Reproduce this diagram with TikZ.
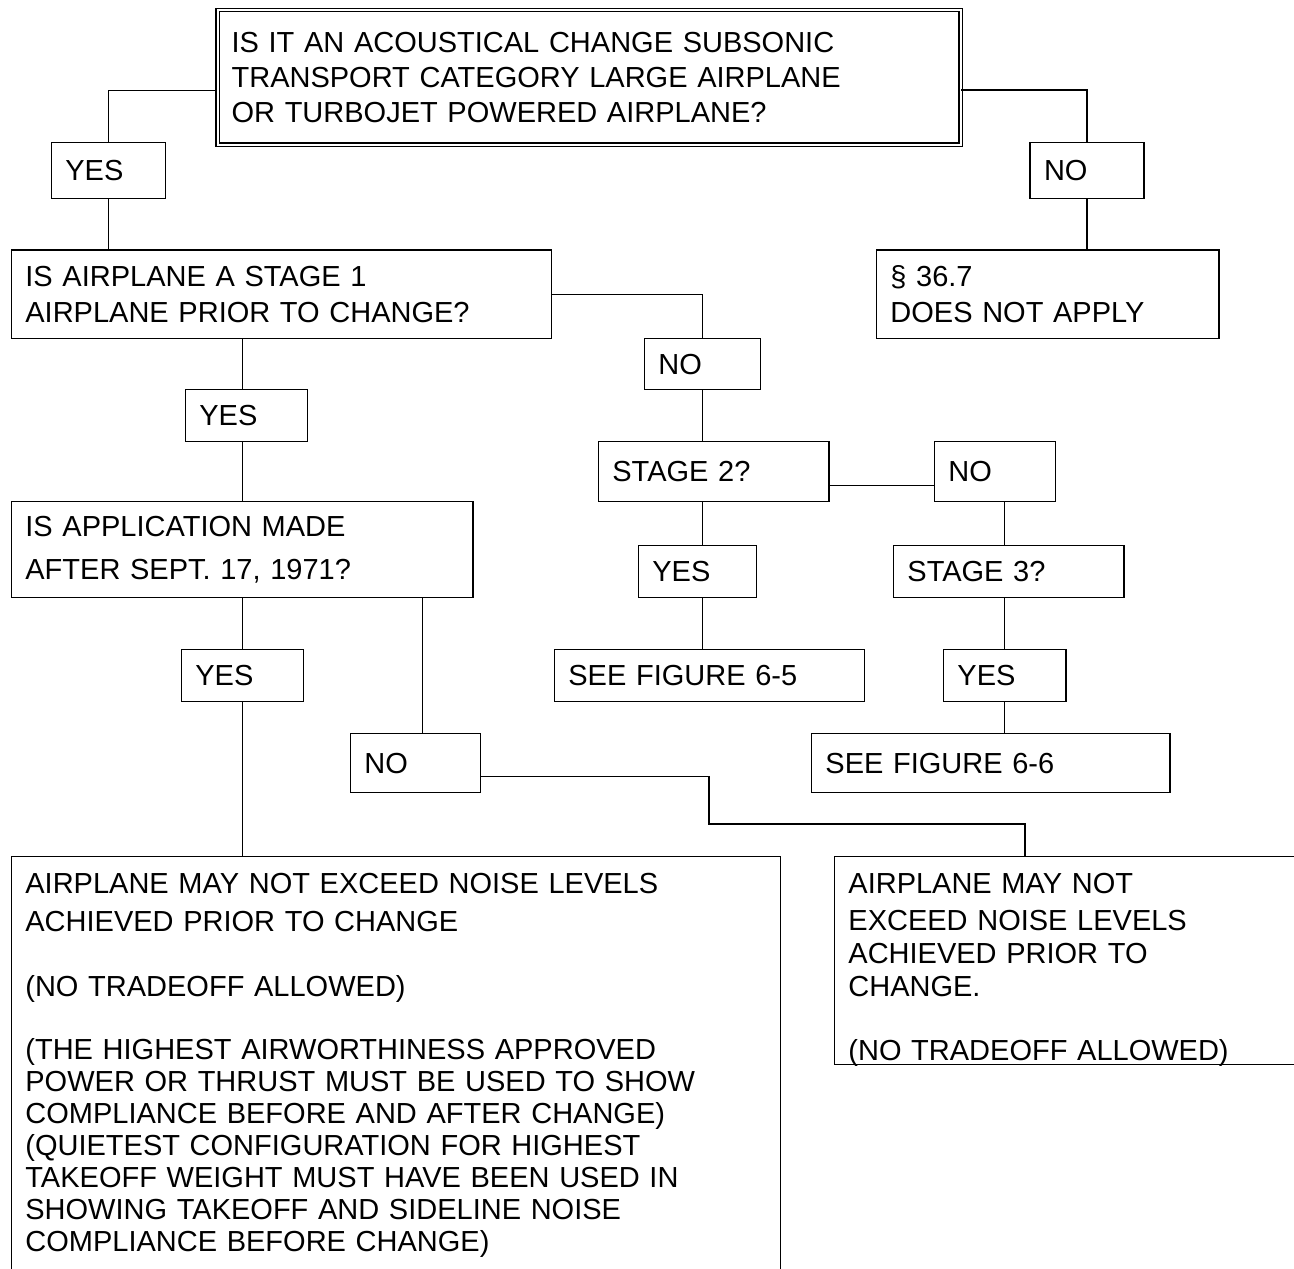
\documentclass[tikz,border=0pt]{standalone}
\usepackage{fontspec}
\setmainfont{Liberation Sans}
\begin{document}
\begin{tikzpicture}[x=1pt, y=-1pt, font=\fontsize{29}{35}\selectfont]
  \useasboundingbox (0,0) rectangle (1294,1269);
  \begin{scope}[every node/.style={draw=black, line width=1.4pt, anchor=north west, inner xsep=14pt, inner ysep=0pt, align=left}]
    \node[double, double distance=2.2pt, line width=1.2pt, text width=715pt, minimum height=134.5pt] (q0) at (217,9.5)
      {IS IT AN ACOUSTICAL CHANGE SUBSONIC\\TRANSPORT CATEGORY LARGE AIRPLANE\\OR TURBOJET POWERED AIRPLANE?};
    \node[text width=86.3pt, minimum height=56pt] (yes1) at (50.7,141.7) {YES};
    \node[text width=86pt, minimum height=56pt] (no1) at (1029.3,141.7) {NO};
    \node[text width=512.3pt, minimum height=88.4pt, font=\fontsize{29}{35.7}\selectfont] (stage1) at (10.7,249.3)
      {IS AIRPLANE A STAGE 1\\AIRPLANE PRIOR TO CHANGE?};
    \node[text width=314.6pt, minimum height=88.4pt, font=\fontsize{29}{35.7}\selectfont] (sec367) at (875.7,249.3)
      {§ 36.7\\DOES NOT APPLY};
    \node[text width=88.3pt, minimum height=51.3pt] (no2) at (643.7,337.7) {NO};
    \node[text width=94.3pt, minimum height=52pt] (yes2) at (184.7,389) {YES};
    \node[text width=202.6pt, minimum height=60.3pt] (stage2) at (597.7,440.7) {STAGE 2?};
    \node[text width=93.3pt, minimum height=60pt] (no3) at (933.7,440.7) {NO};
    \node[text width=433.6pt, minimum height=96.3pt, font=\fontsize{29}{43.3}\selectfont] (app) at (10.7,500.7)
      {IS APPLICATION MADE\\AFTER SEPT. 17, 1971?};
    \node[text width=90.3pt, minimum height=51.7pt] (yes4) at (637.7,545) {YES};
    \node[text width=202.6pt, minimum height=52pt] (stage3) at (892.7,545) {STAGE 3?};
    \node[text width=94.3pt, minimum height=52.3pt] (yes3) at (180.7,648.7) {YES};
    \node[text width=282.3pt, minimum height=52pt] (fig65) at (553.7,649) {SEE FIGURE 6-5};
    \node[text width=94.6pt, minimum height=52.3pt] (yes5) at (942.7,648.7) {YES};
    \node[text width=102.3pt, minimum height=59.3pt] (no4) at (349.7,732.7) {NO};
    \node[text width=330.6pt, minimum height=59.3pt] (fig66) at (810.7,732.7) {SEE FIGURE 6-6};
    \node[text width=741.3pt, inner ysep=17.3pt, text height=20pt, text depth=420pt, font=\fontsize{29}{32}\selectfont] (result1) at (10.7,855.7)
      {AIRPLANE MAY NOT EXCEED NOISE LEVELS\\[5.7pt]
       ACHIEVED PRIOR TO CHANGE\\[32.7pt]
       (NO TRADEOFF ALLOWED)\\[31.7pt]
       (THE HIGHEST AIRWORTHINESS APPROVED\\
       POWER OR THRUST MUST BE USED TO SHOW\\
       COMPLIANCE BEFORE AND AFTER CHANGE)\\
       (QUIETEST CONFIGURATION FOR HIGHEST\\
       TAKEOFF WEIGHT MUST HAVE BEEN USED IN\\
       SHOWING TAKEOFF AND SIDELINE NOISE\\
       COMPLIANCE BEFORE CHANGE)};
    \node[text width=452pt, inner ysep=17.3pt, text height=20pt, text depth=153.7pt, font=\fontsize{29}{33}\selectfont] (result2) at (833.7,855.7)
      {AIRPLANE MAY NOT\\[3.7pt]
       EXCEED NOISE LEVELS\\
       ACHIEVED PRIOR TO\\
       CHANGE.\\[31pt]
       (NO TRADEOFF ALLOWED)};
  \end{scope}
  \begin{scope}[line width=1.1pt]
    \draw ([yshift=-12.75pt]q0.west) -| (yes1.north);
    \draw ([yshift=-12.6pt]q0.east) -| (no1.north);
    \draw (yes1.south) -- (yes1.south |- stage1.north);
    \draw (no1.south) -- (no1.south |- sec367.north);
    \draw (stage1.south -| yes3.north) -- (yes2.north -| yes3.north);
    \draw (yes2.south -| yes3.north) -- (app.north -| yes3.north);
    \draw (app.south -| yes3.north) -- (yes3.north);
    \draw (yes3.south) -- (yes3.south |- result1.north);
    \draw (stage1.east) -| (no2.north);
    \draw (no2.south) -- (no2.south |- stage2.north);
    \draw (stage2.south -| no2.south) -- (yes4.north -| no2.south);
    \draw (yes4.south -| no2.south) -- (fig65.north -| no2.south);
    \draw ([yshift=-13.5pt]stage2.east) -- ([yshift=-13.5pt]stage2.east -| no3.west);
    \draw (no3.south -| yes5.north) -- (stage3.north -| yes5.north);
    \draw (stage3.south -| yes5.north) -- (yes5.north);
    \draw (yes5.south) -- (yes5.south |- fig66.north);
    \coordinate (noup) at ([xshift=7pt]no4.north);
    \draw (noup |- app.south) -- (noup);
    \coordinate (bend) at (709,824);
    \draw ([yshift=-13.65pt]no4.east) -| (bend) -| ([xshift=191.3pt]result2.north west);
  \end{scope}
\end{tikzpicture}
\end{document}
